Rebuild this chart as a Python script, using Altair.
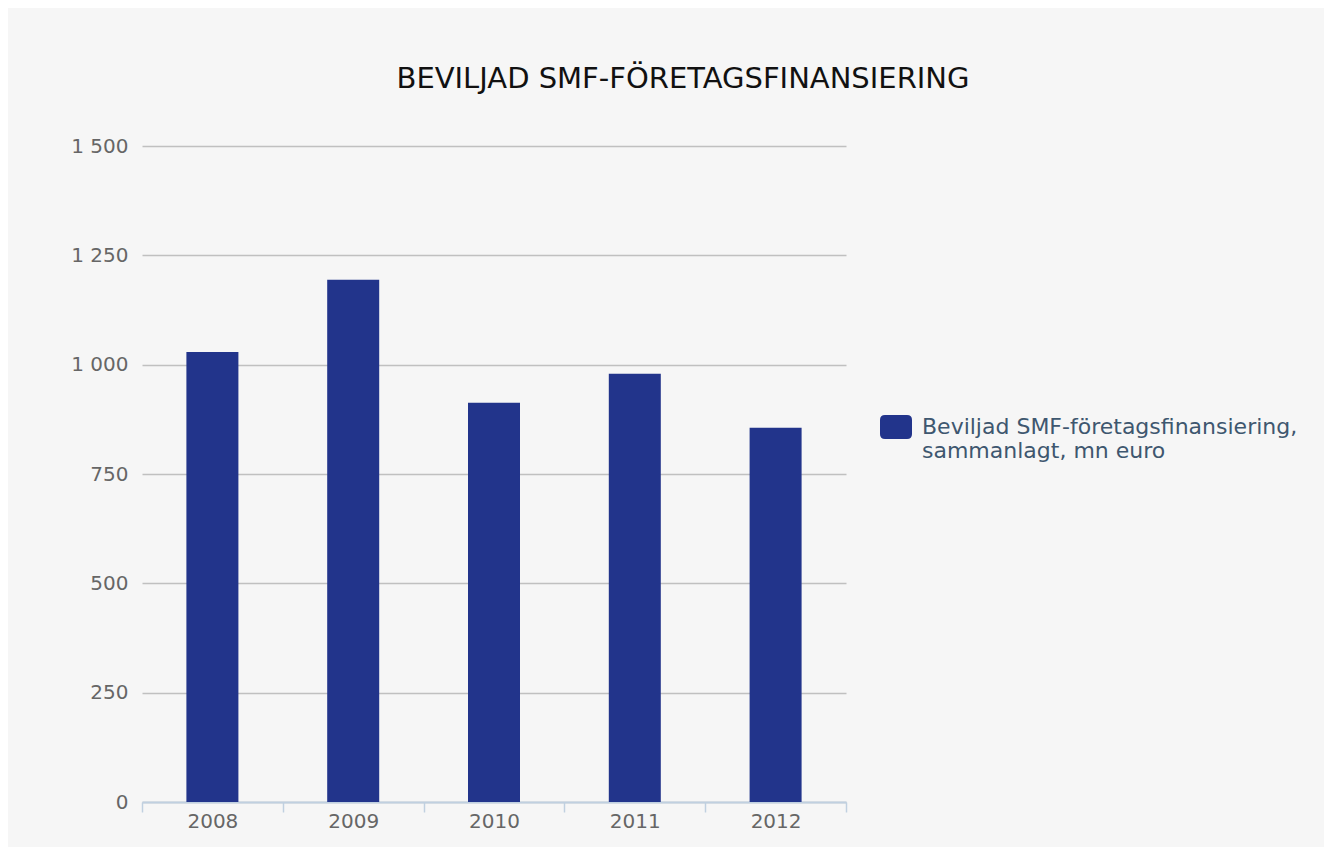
import altair as alt
import pandas as pd

# ---- data ----
years = ["2008", "2009", "2010", "2011", "2012"]
values = [1029, 1194, 913, 979, 856]
series_name = "Beviljad SMF-företagsfinansiering, sammanlagt, mn euro"
title_text = "BEVILJAD SMF-FÖRETAGSFINANSIERING"
y_ticks = [0, 250, 500, 750, 1000, 1250, 1500]

df = pd.DataFrame({"year": years, "value": values, "series": [series_name] * len(years)})

split_at = series_name.index(", s") + 1
label_expr = f"[slice(datum.label, 0, {split_at}), slice(datum.label, {split_at + 1})]"

FONT = "DejaVu Sans"
BAR = "#22348b"

symbol_path = (
    "M-0.69,-0.75 L0.69,-0.75 Q1,-0.75 1,-0.44 L1,0.44 Q1,0.75 0.69,0.75 "
    "L-0.69,0.75 Q-1,0.75 -1,0.44 L-1,-0.44 Q-1,-0.75 -0.69,-0.75 Z"
)

legend_kwargs = dict(
    title=None,
    orient="none",
    legendX=738,
    legendY=265,
    padding=0,
    symbolType=symbol_path,
    symbolSize=1024,
    symbolStrokeWidth=0,
    labelExpr=label_expr,
    labelFont=FONT,
    labelFontSize=22,
    labelColor="#3e576f",
    labelOffset=10,
    labelLimit=800,
    labelBaseline="middle",
)
try:
    legend_props = alt.Legend._rootschema["definitions"]["Legend"]["properties"]
    if "labelLineHeight" in legend_props:
        legend_kwargs["labelLineHeight"] = 30
except Exception:
    pass

chart = (
    alt.Chart(df)
    .mark_bar(size=52)
    .encode(
        x=alt.X(
            "year:N",
            sort=years,
            title=None,
            scale=alt.Scale(paddingInner=0, paddingOuter=0),
            axis=alt.Axis(
                labelAngle=0,
                labelFont=FONT,
                labelFontSize=20,
                labelColor="#666666",
                labelPadding=-1,
                domainColor="#c0d0e0",
                domainWidth=2,
                tickColor="#c0d0e0",
                tickWidth=1.5,
                tickSize=10,
                tickBand="extent",
                grid=False,
            ),
        ),
        y=alt.Y(
            "value:Q",
            title=None,
            scale=alt.Scale(domain=[0, 1500], nice=False),
            axis=alt.Axis(
                values=y_ticks,
                labelExpr="replace(format(datum.value, ','), ',', ' ')",
                labelFont=FONT,
                labelFontSize=20,
                labelColor="#666666",
                labelPadding=14,
                domain=False,
                ticks=False,
                grid=True,
                gridColor="#c0c0c0",
                gridWidth=1.5,
            ),
        ),
        color=alt.Color(
            "series:N",
            scale=alt.Scale(range=[BAR]),
            legend=alt.Legend(**legend_kwargs),
        ),
    )
    .properties(
        width=704,
        height=656,
        title=alt.TitleParams(
            text=title_text,
            font=FONT,
            fontSize=29,
            fontWeight="normal",
            color="#111111",
            anchor="middle",
            frame="group",
            dx=189,
            offset=42,
        ),
        padding={"left": 134, "top": 138, "right": 478, "bottom": 45},
        autosize=alt.AutoSizeParams(type="none"),
        background="#f6f6f6",
    )
    .configure_view(stroke=None)
)

chart.save("out.html", embed_options={"renderer": "svg", "actions": False})
